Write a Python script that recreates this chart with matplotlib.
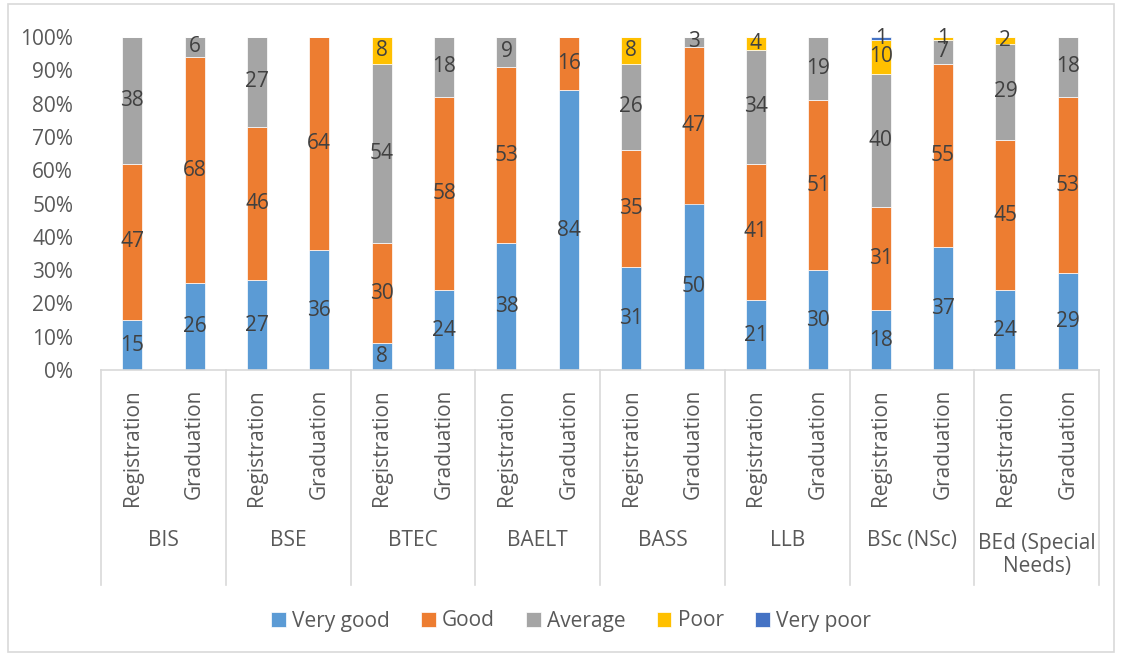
import numpy as np
import matplotlib.pyplot as plt
from matplotlib.patches import Rectangle

plt.rcParams['font.family'] = ['Open Sans', 'DejaVu Sans']

programs = ["BIS", "BSE", "BTEC", "BAELT", "BASS", "LLB", "BSc (NSc)", "BEd (Special\nNeeds)"]
stages = ["Registration", "Graduation"]
series = ["Very good", "Good", "Average", "Poor", "Very poor"]
colors = ["#5B9BD5", "#ED7D31", "#A5A5A5", "#FFC000", "#4472C4"]

# one entry per bar, registration then graduation for each programme
very_good = [15, 26, 27, 36, 8, 24, 38, 84, 31, 50, 21, 30, 18, 37, 24, 29]
good      = [47, 68, 46, 64, 30, 58, 53, 16, 35, 47, 41, 51, 31, 55, 45, 53]
average   = [38, 6, 27, 0, 54, 18, 9, 0, 26, 3, 34, 19, 40, 7, 29, 18]
poor      = [0, 0, 0, 0, 8, 0, 0, 0, 8, 0, 4, 0, 10, 1, 2, 0]
very_poor = [0, 0, 0, 0, 0, 0, 0, 0, 0, 0, 0, 0, 1, 0, 0, 0]

data = np.array([very_good, good, average, poor, very_poor], dtype=float)
pct = data / data.sum(axis=0) * 100

W, H = 1121, 656
FS = 15
fig = plt.figure(figsize=(W / 100, H / 100), dpi=100)
ax = fig.add_axes([101 / W, 1 - 370 / H, 998 / W, 333 / H])

x = np.arange(data.shape[1])
bottom = np.zeros(len(x))
for i, name in enumerate(series):
    ax.bar(x, pct[i], 0.32, bottom=bottom, color=colors[i], label=name,
           edgecolor="white", linewidth=0.5)
    for xi, b, h, v in zip(x, bottom, pct[i], data[i]):
        if v > 0:
            ax.text(xi, b + h / 2, f"{int(v)}", ha="center", va="center",
                    fontsize=FS, color="#404040")
    bottom += pct[i]

ax.set_xlim(-0.5, len(x) - 0.5)
ax.set_ylim(0, 100)
ax.set_yticks(np.arange(0, 101, 10))
ax.set_yticklabels([f"{v}%" for v in range(0, 101, 10)], fontsize=FS, color="#595959")
ax.tick_params(axis="y", length=0, pad=20)
ax.set_xticks([])
for s in ["top", "right", "left"]:
    ax.spines[s].set_visible(False)
ax.spines["bottom"].set_color("#D9D9D9")
ax.spines["bottom"].set_linewidth(1.2)

# multi-level category axis below the plot
tr = ax.get_xaxis_transform()
ylow = -(585 - 370) / 333
for g in range(len(programs) + 1):
    ax.plot([g * 2 - 0.5, g * 2 - 0.5], [0, ylow], color="#D9D9D9", lw=1.2,
            transform=tr, clip_on=False)
for xi in x:
    ax.text(xi, -(389 - 370) / 333, stages[xi % 2], rotation=90, ha="center", va="top",
            fontsize=FS, color="#595959", transform=tr)
for g, name in enumerate(programs):
    yc = 555 if "\n" in name else 541
    ax.text(g * 2 + 0.5, -(yc - 370) / 333, name, ha="center", va="center",
            fontsize=FS, color="#595959", transform=tr, linespacing=1.1)

handles, labels = ax.get_legend_handles_labels()
fig.legend(handles, labels, loc="center", bbox_to_anchor=(571 / W, 1 - 621 / H), ncol=5,
           frameon=False, fontsize=FS, handlelength=0.7, handleheight=0.7,
           handletextpad=0.3, columnspacing=1.5, labelcolor="#595959")

fig.patches.append(Rectangle((8 / W, 4 / H), 1106 / W, 648 / H, transform=fig.transFigure,
                             fill=False, edgecolor="#D9D9D9", lw=1.2))

fig.savefig("out.png", dpi=100)
